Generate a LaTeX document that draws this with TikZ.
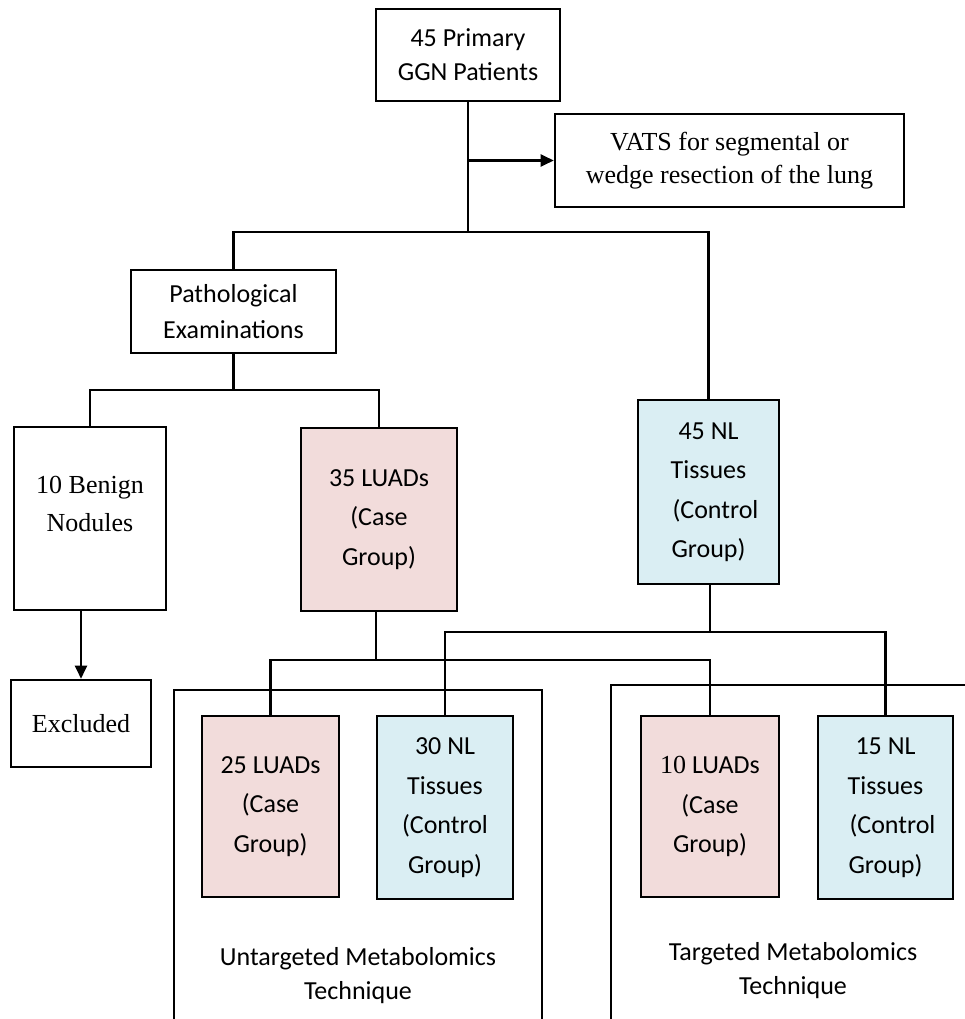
\documentclass[tikz,border=0pt]{standalone}
\usepackage{fontspec}
\setmainfont{Carlito}
\newfontfamily\tnr{Liberation Serif}
\usetikzlibrary{arrows.meta}
\definecolor{casepink}{HTML}{F2DCDB}
\definecolor{ctrlblue}{HTML}{DAEEF3}
\tikzset{
  box/.style={draw, line width=2.6pt, align=center, inner sep=0pt, font=\fontsize{26}{39.5}\selectfont},
  casebox/.style={box, fill=casepink},
  ctrlbox/.style={box, fill=ctrlblue},
  lnk/.style={line width=2.4pt},
  arr/.style={line width=2.4pt, -{Triangle[length=13pt,width=12pt]}},
  frame/.style={line width=2.6pt},
  framelabel/.style={align=center, inner sep=0pt, font=\fontsize{26}{34}\selectfont},
}
\begin{document}
\begin{tikzpicture}[x=1pt, y=-1pt]
\useasboundingbox (0,0) rectangle (965,1019);
\clip (0,0) rectangle (965,1019);

% frames (cut off by the picture edge)
\draw[frame] (174,1040) -- (174,690) -- (542,690) -- (542,1040);
\draw[frame] (611,1040) -- (611,685) -- (990,685);
\node[framelabel] (untl) at (358,976) {Untargeted Metabolomics\\Technique};
\node[framelabel] (tl) at (793,971) {Targeted Metabolomics\\Technique};

% nodes
\node[box, minimum width=184pt, minimum height=92pt, font=\fontsize{26}{34}\selectfont] (top) at (468,55) {45 Primary\\GGN Patients};
\node[box, minimum width=349pt, minimum height=93pt, font={\tnr\fontsize{26}{33}\selectfont}] (vats) at (729.5,160.5) {VATS for segmental or\\wedge resection of the lung};
\node[box, minimum width=205pt, minimum height=83pt, font=\fontsize{26}{36}\selectfont] (path) at (233.5,311.5) {Pathological\\Examinations};
\node[ctrlbox, minimum width=141pt, minimum height=184pt] (nl45) at (708.5,492) {45 NL\\Tissues\\\hspace*{14pt}(Control\\Group)};
\node[box, minimum width=152pt, minimum height=183pt,
  label={[font={\tnr\fontsize{26}{38}\selectfont}, align=center, yshift=14.5pt]center:{10 Benign\\Nodules}}] (benign) at (90,518.5) {};
\node[casebox, minimum width=156pt, minimum height=183pt] (luad35) at (379,519.5) {35 LUADs\\(Case\\Group)};
\node[box, minimum width=140pt, minimum height=87pt, font={\tnr\fontsize{26}{34}\selectfont}] (excl) at (81,723.5) {Excluded};
\node[casebox, minimum width=137pt, minimum height=181pt] (luad25) at (270.5,806.5) {25 LUADs\\(Case\\Group)};
\node[ctrlbox, minimum width=136pt, minimum height=183pt] (nl30) at (445,807.5) {30 NL\\Tissues\\(Control\\Group)};
\node[casebox, minimum width=138pt, minimum height=181pt] (luad10) at (710,806.5) {{\tnr 10} LUADs\\(Case\\Group)};
\node[ctrlbox, minimum width=135pt, minimum height=183pt] (nl15) at (885.5,807.5) {15 NL\\Tissues\\\hspace*{14pt}(Control\\Group)};

% junctions
\coordinate (j1) at (468,232);
\coordinate (j2) at (233.5,390);
\coordinate (j3) at (376,660);
\coordinate (j4) at (710,632);

% connectors
\draw[lnk] (top.south) -- (j1);
\draw[arr] (top.south |- vats.west) -- (vats.west);
\draw[lnk] (path.north) |- (j1) -| (nl45.north);
\draw[lnk] (path.south) -- (j2);
\draw[lnk] (benign.north) |- (j2) -| (luad35.north);
\draw[arr] (benign.south -| excl.north) -- (excl.north);
\draw[lnk] (luad35.south -| j3) -- (j3);
\draw[lnk] (luad25.north) |- (j3) -| (luad10.north);
\draw[lnk] (nl45.south -| j4) -- (j4);
\draw[lnk] (nl30.north) |- (j4) -| (nl15.north);
\end{tikzpicture}
\end{document}
